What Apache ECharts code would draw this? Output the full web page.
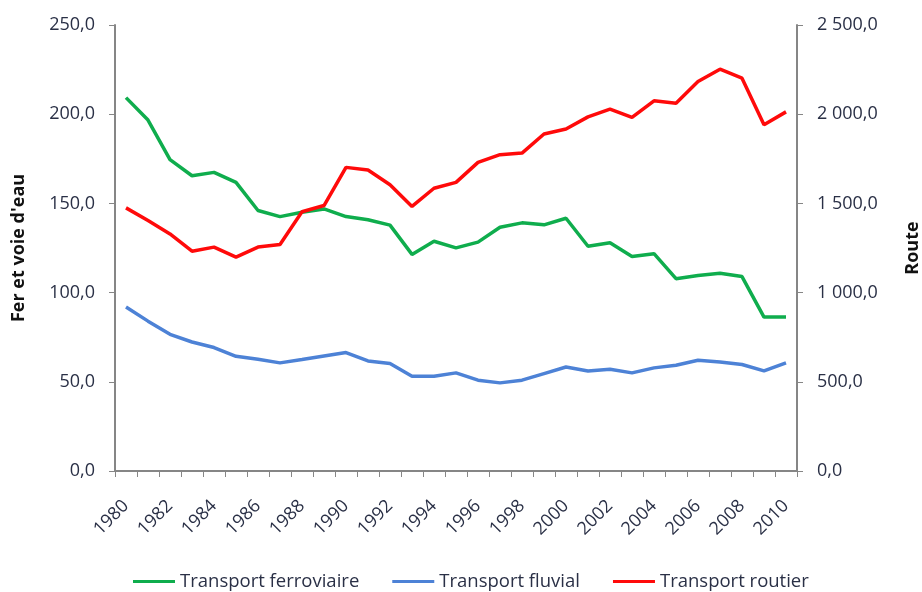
<!DOCTYPE html>
<html><head><meta charset="utf-8">
<script src="https://cdn.jsdelivr.net/npm/echarts@6/dist/echarts.min.js"></script>
<style>html,body{margin:0;padding:0;background:#fff}#c{width:922px;height:592px}</style>
</head><body><div id="c"></div>
<script>
const years = ['1980','1981','1982','1983','1984','1985','1986','1987','1988','1989','1990','1991','1992','1993','1994','1995','1996','1997','1998','1999','2000','2001','2002','2003','2004','2005','2006','2007','2008','2009','2010'];
const ferroviaire = [209.3,196.7,174.5,165.5,167.4,161.8,146,142.6,145,146.9,142.6,140.8,137.8,121.4,128.8,125.1,128.3,136.6,139.1,138,141.7,126,127.9,120.2,121.8,107.8,109.6,110.9,109,86.3,86.3];
const fluvial = [91.9,84,76.6,72.3,69.2,64.3,62.6,60.6,62.5,64.5,66.4,61.7,60.2,53.1,53.1,55,50.9,49.4,50.9,54.6,58.3,56.1,57,55,57.8,59.3,62.1,61.1,59.7,56.1,60.6];
const routier = [1475,1404,1329,1232,1255,1199,1255,1270,1453,1488,1702,1687,1605,1483,1585,1618,1730,1773,1782,1889,1917,1985,2028,1982,2075,2062,2183,2252,2202,1941,2013];
const seriesNames = ['Transport ferroviaire','Transport fluvial','Transport routier'];

const font = 'Open Sans';
const labelColor = '#2a3046';
function fr(v, thousands){
  let s = v.toFixed(1).replace('.', ',');
  if (thousands) {
    const parts = s.split(',');
    parts[0] = parts[0].replace(/\B(?=(\d{3})+(?!\d))/g, '\u00a0');
    s = parts.join(',');
  }
  return s;
}
const axisLine = {show:true, lineStyle:{color:'#868686', width:2}};
const chart = echarts.init(document.getElementById('c'), null, {renderer:'canvas'});
chart.setOption({
  animation:false,
  textStyle:{fontFamily:font},
  grid:{left:115, right:125, top:25, bottom:121, containLabel:false, outerBoundsMode:'none'},
  legend:{
    top:567, left:128, itemGap:33, itemWidth:42, itemHeight:3, icon:'rect',
    textStyle:{fontFamily:font, fontSize:18.5, color:'#2a3046'},
    data:seriesNames
  },
  xAxis:{
    type:'category', data:years, boundaryGap:true,
    axisLine:axisLine,
    axisTick:{show:true, alignWithLabel:false, interval:0, length:6, lineStyle:{color:'#868686'}},
    axisLabel:{interval:1, rotate:45, fontFamily:font, fontSize:18, color:labelColor, margin:32},
    splitLine:{show:false}
  },
  yAxis:[
    {type:'value', min:0, max:250, interval:50, position:'left',
     name:"Fer et voie d'eau", nameLocation:'middle', nameGap:87, nameRotate:90,
     nameTextStyle:{fontFamily:font, fontSize:18, fontWeight:'bold', color:'#111'},
     axisLine:axisLine, axisTick:{show:true, length:6, lineStyle:{color:'#868686'}},
     axisLabel:{formatter:v=>fr(v,false), fontFamily:font, fontSize:18, color:labelColor, margin:20},
     splitLine:{show:false}},
    {type:'value', min:0, max:2500, interval:500, position:'right',
     name:'Route', nameLocation:'middle', nameGap:107, nameRotate:90,
     nameTextStyle:{fontFamily:font, fontSize:18, fontWeight:'bold', color:'#111'},
     axisLine:axisLine, axisTick:{show:true, length:6, lineStyle:{color:'#868686'}},
     axisLabel:{formatter:v=>fr(v,true), fontFamily:font, fontSize:18, color:labelColor, margin:20},
     splitLine:{show:false}}
  ],
  series:[
    {name:seriesNames[0], type:'line', yAxisIndex:0, data:ferroviaire, symbol:'none', lineStyle:{width:3.5, color:'#0fad4d'}, itemStyle:{color:'#0fad4d'}},
    {name:seriesNames[1], type:'line', yAxisIndex:0, data:fluvial, symbol:'none', lineStyle:{width:3.5, color:'#4d82d6'}, itemStyle:{color:'#4d82d6'}},
    {name:seriesNames[2], type:'line', yAxisIndex:1, data:routier, symbol:'none', lineStyle:{width:3.5, color:'#ff0a0a'}, itemStyle:{color:'#ff0a0a'}}
  ]
});
</script></body></html>
